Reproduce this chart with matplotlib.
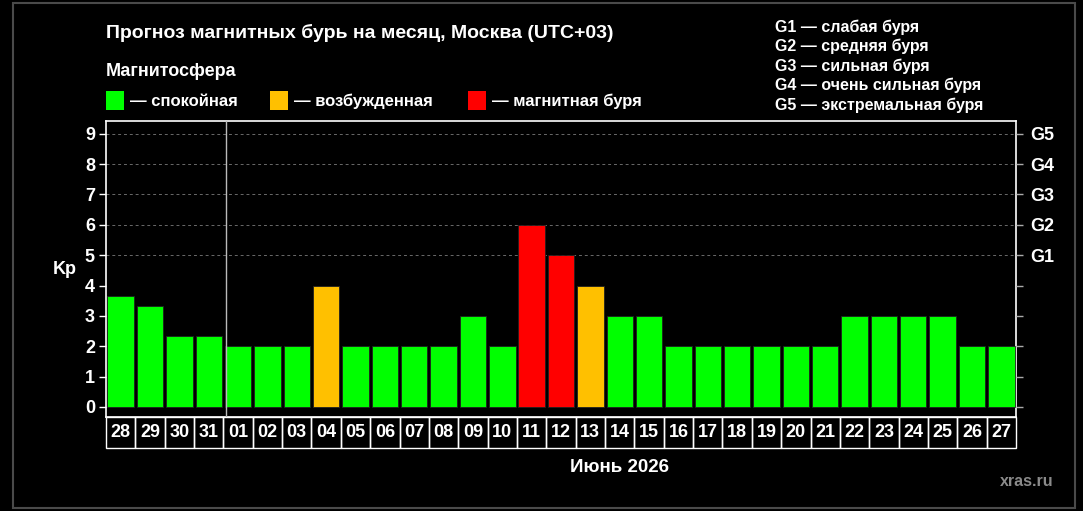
import matplotlib.pyplot as plt
from matplotlib.patches import Rectangle
import matplotlib.transforms as mtransforms

plt.rcParams['font.family'] = ['Liberation Sans', 'DejaVu Sans']
plt.rcParams['font.weight'] = 'bold'

days = ['28', '29', '30', '31', '01', '02', '03', '04', '05', '06', '07', '08',
        '09', '10', '11', '12', '13', '14', '15', '16', '17', '18', '19', '20',
        '21', '22', '23', '24', '25', '26', '27']
kp = [3.67, 3.33, 2.33, 2.33, 2, 2, 2, 4, 2, 2, 2, 2,
      3, 2, 6, 5, 4, 3, 3, 2, 2, 2, 2, 2,
      2, 3, 3, 3, 3, 2, 2]
g_levels = ['G1', 'G2', 'G3', 'G4', 'G5']
g_names = ['слабая буря', 'средняя буря', 'сильная буря',
           'очень сильная буря', 'экстремальная буря']
states = ['спокойная', 'возбужденная', 'магнитная буря']
state_colors = ['#00ff00', '#ffc000', '#ff0000']

W, H = 1083, 511
fig = plt.figure(figsize=(W / 100, H / 100), dpi=100, facecolor='black')

def px(x, y):
    return x / W, 1 - y / H

# outer grey frame
fig.patches.append(Rectangle(px(13, 508), 1062 / W, 505 / H, transform=fig.transFigure,
                             fill=False, edgecolor='#4a4a4a', linewidth=1.5))

left, right, top, bottom = 106, 1016, 121, 417
ax = fig.add_axes([left / W, 1 - bottom / H, (right - left) / W, (bottom - top) / H])
ax.set_facecolor('black')

def color_for(v):
    if v >= 5:
        return state_colors[2]
    if v >= 4:
        return state_colors[1]
    return state_colors[0]

x = list(range(len(days)))
ax.bar(x, kp, width=0.9, color=[color_for(v) for v in kp], edgecolor='#202020',
       linewidth=0.6, zorder=3)
ax.set_xlim(-0.5, len(days) - 0.5)
ax.set_ylim(-0.33, 9.42)

for g in range(5, 10):
    ax.axhline(g, color='#6a6a6a', linestyle=(0, (3, 3)), linewidth=0.7, zorder=1)
ax.axvline(3.6, color='#bbbbbb', linewidth=1, zorder=4)

for s in ax.spines.values():
    s.set_color('white')
    s.set_linewidth(1.2)

ax.set_yticks(range(10))
ax.set_yticklabels([str(i) for i in range(10)])
ax.tick_params(axis='y', colors='white', labelsize=13, length=5, width=1, pad=3,
               labelcolor='white')
ax.set_xticks([])

ax2 = ax.twinx()
ax2.set_ylim(ax.get_ylim())
ax2.set_yticks(range(10))
ax2.set_yticklabels([''] * 5 + g_levels)
ax2.tick_params(axis='y', colors='#aaaaaa', labelcolor='white', labelsize=13,
                length=5, width=1, pad=5)
for s in ax2.spines.values():
    s.set_visible(False)

# day label boxes under the axis
trans = mtransforms.blended_transform_factory(ax.transData, ax.transAxes)
box_h = 31 / (bottom - top)
for i, d in enumerate(days):
    ax.add_patch(Rectangle((i - 0.5, -box_h), 1, box_h, transform=trans, fill=False,
                           edgecolor='white', linewidth=1, clip_on=False))
    ax.text(i, -box_h / 2, d, transform=trans, ha='center', va='center',
            color='white', fontsize=13, clip_on=False)

fig.text(*px(65, 270), 'Kp', color='white', fontsize=13, ha='center', va='center')
fig.text(*px(620, 468), 'Июнь 2026', color='white', fontsize=13.5, ha='center', va='center')
fig.text(*px(1027, 481), 'xras.ru', color='#8a8a8a', fontsize=11.5, ha='center', va='center')

fig.text(*px(106, 33), 'Прогноз магнитных бурь на месяц, Москва (UTC+03)',
         color='white', fontsize=14, ha='left', va='center')
fig.text(*px(106, 72), 'Магнитосфера', color='white', fontsize=13, ha='left', va='center')

sq_x = [106, 270, 468]
for sx, name, c in zip(sq_x, states, state_colors):
    fig.patches.append(Rectangle(px(sx, 110), 18 / W, 19 / H, transform=fig.transFigure,
                                 facecolor=c, edgecolor='none'))
    fig.text(*px(sx + 24, 101), '— ' + name, color='white', fontsize=12,
             ha='left', va='center')

for k, (g, n) in enumerate(zip(g_levels, g_names)):
    fig.text(*px(775, 27 + k * 19.5), g + ' — ' + n, color='white', fontsize=11.5,
             ha='left', va='center')

fig.savefig('out.png', dpi=100, facecolor='black')
